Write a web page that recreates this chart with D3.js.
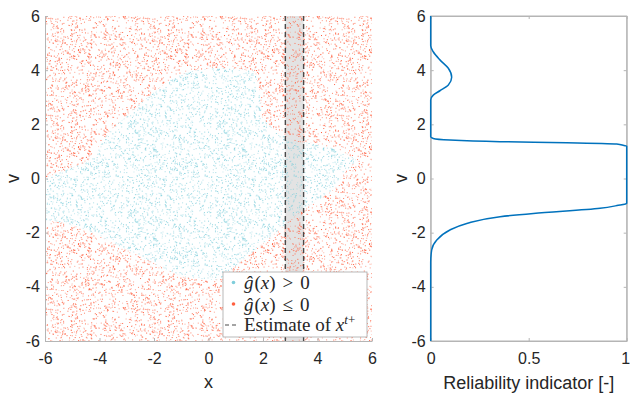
<!DOCTYPE html>
<html>
<head>
<meta charset="utf-8">
<script src="https://cdn.jsdelivr.net/npm/d3@7"></script>
<style>
  body { margin: 0; background: #fff; }
  svg { display: block; }
  .tick text { font-family: "Liberation Sans", Arial, sans-serif; font-size: 16px; fill: #262626; }
  .axlabel { font-family: "Liberation Sans", Arial, sans-serif; font-size: 18px; fill: #262626; }
  .leg { font-family: "Liberation Serif", serif; font-size: 19px; fill: #262626; }
</style>
</head>
<body>
<div id="chart"></div>
<script>
// ticks
const xTicksL = [-6, -4, -2, 0, 2, 4, 6]
const yTicks = [-6, -4, -2, 0, 2, 4, 6]
const xTicksR = [0, 0.5, 1]

// boundary of the region where g_hat(x) > 0
const bndX = [-6, -4.46, -3.58, -2.48, -1.52, -0.79, 0.20, 1.16, 1.71, 1.89, 1.96, 2.51, 3.25, 3.83, 4.83, 5.45,
  5.01, 4.57, 3.36, 2.15, 1.16, 0.50, 0.20, -0.90, -1.74, -2.73, -3.58, -4.46, -5.30, -6]
const bndY = [0.02, 0.61, 1.79, 2.79, 3.56, 3.93, 4.08, 4.04, 3.93, 3.16, 2.27, 1.68, 1.35, 1.31, 1.05, 0.68,
  0.24, -0.43, -1.24, -2.27, -3.08, -3.67, -3.75, -3.64, -3.27, -2.75, -2.35, -1.90, -1.64, -1.53]

// estimate band of x^{t+}
const bandX = [2.82, 3.49]

// reliability indicator curve
const relV = [6, 4.9, 4.68, 4.38, 4.07, 3.74, 3.45, 3.24, 3.08, 2.9, 1.54, 1.48, 1.42, 1.36, 1.32, 1.27, 1.22, 1.20,
  -0.92, -1.0, -1.10, -1.29, -1.41, -1.66, -1.90, -2.27, -2.64, -3.1, -6]
const relR = [0, 0, 0.013, 0.047, 0.09, 0.107, 0.09, 0.047, 0.013, 0, 0, 0.013, 0.098, 0.354, 0.694, 0.949, 0.986, 1,
  1, 0.95, 0.864, 0.524, 0.354, 0.184, 0.098, 0.031, 0.005, 0, 0]

const W = 630, H = 397
const axisCol = '#b5b5b5'
const red = '#ff6040', cyan = '#80cedb'

const svg = d3.select('#chart').append('svg')
  .attr('width', W).attr('height', H)
  .attr('viewBox', [0, 0, W, H])

const defs = svg.append('defs')

// stipple texture standing in for the dense scatter of samples (pure styling, not data)
const grain = (i, k) => {
  const s = Math.sin(i * 12.9898 + k * 78.233) * 43758.5453
  return s - Math.floor(s)
}
const stipple = (id, size, n, color, oMin, oMax, seed) => {
  const pat = defs.append('pattern').attr('id', id)
    .attr('patternUnits', 'userSpaceOnUse')
    .attr('width', size).attr('height', size)
  for (let i = 0; i < n; i++) {
    pat.append('rect')
      .attr('x', grain(i, seed) * size)
      .attr('y', grain(i, seed + 1) * size)
      .attr('width', 1.05).attr('height', 1.05)
      .attr('fill', color)
      .attr('opacity', oMin + (oMax - oMin) * grain(i, seed + 2))
  }
}
stipple('redDots', 97, 1100, red, 0.4, 1, 1)
stipple('cyanDots', 89, 1000, cyan, 0.35, 0.9, 7)

// ---------- left panel ----------
const xL = d3.scaleLinear().domain([-6, 6]).range([45, 372])
const yL = d3.scaleLinear().domain([-6, 6]).range([341, 16])

const gL = svg.append('g')

// band
gL.append('rect')
  .attr('x', xL(bandX[0])).attr('y', yL(6))
  .attr('width', xL(bandX[1]) - xL(bandX[0]))
  .attr('height', yL(-6) - yL(6))
  .style('fill', '#e3e3e3')

const bnd = bndX.map((x, i) => [xL(x), yL(bndY[i])])
const polyPath = 'M' + bnd.join('L') + 'Z'
const framePath = `M${xL(-6)},${yL(6)}H${xL(6)}V${yL(-6)}H${xL(-6)}Z`

gL.append('path')
  .attr('d', framePath + polyPath)
  .attr('fill-rule', 'evenodd')
  .style('fill', 'url(#redDots)')

gL.append('path')
  .attr('d', polyPath)
  .style('fill', 'url(#cyanDots)')

// dashed estimate lines
gL.selectAll('.est')
  .data(bandX)
  .enter()
  .append('line')
  .attr('class', 'est')
  .attr('x1', d => xL(d)).attr('x2', d => xL(d))
  .attr('y1', yL(6)).attr('y2', yL(-6))
  .style('stroke', '#4a4a4a')
  .style('stroke-width', 1.4)
  .style('stroke-dasharray', '5,3')

const styleAxis = sel => {
  sel.select('.domain').style('stroke', axisCol)
  sel.selectAll('.tick line').style('stroke', axisCol)
}
const fmt = d => String(d)

gL.append('g')
  .attr('transform', `translate(0,${yL(-6)})`)
  .call(d3.axisBottom(xL).tickValues(xTicksL).tickFormat(fmt).tickSizeInner(-3).tickSizeOuter(0).tickPadding(12))
  .call(styleAxis)

gL.append('g')
  .attr('transform', `translate(${xL(-6)},0)`)
  .call(d3.axisLeft(yL).tickValues(yTicks).tickFormat(fmt).tickSizeInner(-3).tickSizeOuter(0).tickPadding(5))
  .call(styleAxis)

svg.append('text').attr('class', 'axlabel')
  .attr('x', (xL(-6) + xL(6)) / 2).attr('y', 388)
  .attr('text-anchor', 'middle').text('x')

svg.append('text').attr('class', 'axlabel')
  .attr('transform', `translate(19,${yL(0)}) rotate(-90)`)
  .attr('text-anchor', 'middle').text('v')

// legend
const lg = svg.append('g').attr('transform', 'translate(223,272)')
lg.append('rect')
  .attr('width', 144).attr('height', 65)
  .style('fill', '#fff').style('stroke', '#a8a8a8').style('stroke-width', 0.8)

lg.append('circle').attr('cx', 10.5).attr('cy', 10.5).attr('r', 1.8).style('fill', cyan)
lg.append('circle').attr('cx', 10.5).attr('cy', 32).attr('r', 1.8).style('fill', red)
lg.append('line')
  .attr('x1', 2).attr('x2', 16).attr('y1', 53).attr('y2', 53)
  .style('stroke', '#4a4a4a').style('stroke-width', 1.2).style('stroke-dasharray', '4,3')

const mathRow = (y, rel) => {
  const t = lg.append('text').attr('class', 'leg').attr('x', 21).attr('y', y)
  t.append('tspan').style('font-style', 'italic').text('ĝ')
  t.append('tspan').attr('dx', 1).text('(')
  t.append('tspan').style('font-style', 'italic').text('x')
  t.append('tspan').text(')')
  t.append('tspan').attr('dx', 7).text(rel)
  t.append('tspan').attr('dx', 7).text('0')
}
mathRow(17, '>')
mathRow(38.5, '≤')

const t3 = lg.append('text').attr('class', 'leg').attr('x', 21).attr('y', 59)
t3.append('tspan').text('Estimate of ')
t3.append('tspan').style('font-style', 'italic').text('x')
t3.append('tspan').attr('dy', -7).style('font-size', '13px').style('font-style', 'italic').text('t')
t3.append('tspan').style('font-size', '13px').text('+')

// ---------- right panel ----------
const xR = d3.scaleLinear().domain([0, 1]).range([430.7, 626.7])
const yR = d3.scaleLinear().domain([-6, 6]).range([341, 16])
const gR = svg.append('g')

gR.append('rect')
  .attr('x', xR(0)).attr('y', yR(6))
  .attr('width', xR(1) - xR(0)).attr('height', yR(-6) - yR(6))
  .style('fill', 'none').style('stroke', axisCol)

const bottomR = gR.append('g')
  .attr('transform', `translate(0,${yR(-6)})`)
  .call(d3.axisBottom(xR).tickValues(xTicksR).tickFormat(fmt).tickSizeInner(-3).tickSizeOuter(0).tickPadding(12))
  .call(styleAxis)
// last label sits on the window edge; nudge it inside
bottomR.selectAll('.tick text').filter(d => d === 1).attr('dx', -1.5)

gR.append('g')
  .attr('transform', `translate(0,${yR(6)})`)
  .call(d3.axisTop(xR).tickValues(xTicksR).tickFormat('').tickSizeInner(-3).tickSizeOuter(0))
  .call(styleAxis)
gR.append('g')
  .attr('transform', `translate(${xR(0)},0)`)
  .call(d3.axisLeft(yR).tickValues(yTicks).tickFormat(fmt).tickSizeInner(-3).tickSizeOuter(0).tickPadding(5))
  .call(styleAxis)
gR.append('g')
  .attr('transform', `translate(${xR(1)},0)`)
  .call(d3.axisRight(yR).tickValues(yTicks).tickFormat('').tickSizeInner(-3).tickSizeOuter(0))
  .call(styleAxis)

const relLine = d3.line()
  .x((d, i) => xR(relR[i]))
  .y(d => yR(d))
  .curve(d3.curveMonotoneY)

gR.append('path')
  .attr('d', relLine(relV))
  .style('fill', 'none')
  .style('stroke', '#0072bd')
  .style('stroke-width', 1.5)

svg.append('text').attr('class', 'axlabel')
  .attr('x', (xR(0) + xR(1)) / 2).attr('y', 389)
  .attr('text-anchor', 'middle').text('Reliability indicator [-]')

svg.append('text').attr('class', 'axlabel')
  .attr('transform', `translate(407,${yR(0)}) rotate(-90)`)
  .attr('text-anchor', 'middle').text('v')
</script>
</body>
</html>
